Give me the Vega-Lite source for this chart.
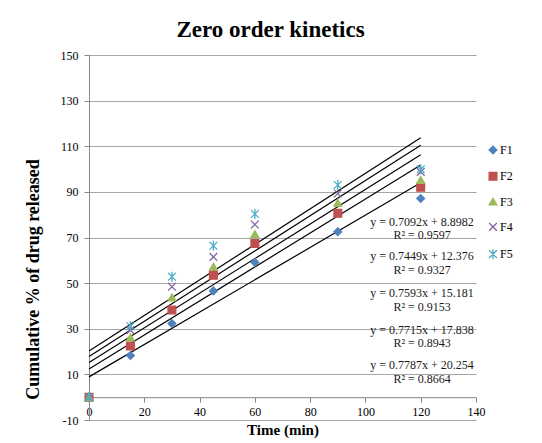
{
  "$schema": "https://vega.github.io/schema/vega-lite/v6.json",
  "autosize": {"type": "none"},
  "padding": {"left": 89, "top": 55, "right": 66, "bottom": 23},
  "width": 387,
  "height": 365,
  "background": "white",
  "config": {"font": "Liberation Serif", "view": {"stroke": null}},
  "title": {"text": "Zero order kinetics", "fontSize": 23, "fontWeight": "bold", "font": "Liberation Serif", "color": "black", "anchor": "middle", "dx": -12, "offset": 7},
  "datasets": {
    "obs": [
      {"s": "F1", "time": 0, "value": 0}, {"s": "F1", "time": 15, "value": 18.3}, {"s": "F1", "time": 30, "value": 32.3}, {"s": "F1", "time": 45, "value": 46.6}, {"s": "F1", "time": 60, "value": 59.1}, {"s": "F1", "time": 90, "value": 72.5}, {"s": "F1", "time": 120, "value": 87.1},
      {"s": "F2", "time": 0, "value": 0}, {"s": "F2", "time": 15, "value": 22.4}, {"s": "F2", "time": 30, "value": 38.2}, {"s": "F2", "time": 45, "value": 53.5}, {"s": "F2", "time": 60, "value": 67.4}, {"s": "F2", "time": 90, "value": 80.6}, {"s": "F2", "time": 120, "value": 92.0},
      {"s": "F3", "time": 0, "value": 0}, {"s": "F3", "time": 15, "value": 26.2}, {"s": "F3", "time": 30, "value": 43.7}, {"s": "F3", "time": 45, "value": 57.2}, {"s": "F3", "time": 60, "value": 71.5}, {"s": "F3", "time": 90, "value": 85.2}, {"s": "F3", "time": 120, "value": 95.2},
      {"s": "F4", "time": 0, "value": 0}, {"s": "F4", "time": 15, "value": 29.4}, {"s": "F4", "time": 30, "value": 48.4}, {"s": "F4", "time": 45, "value": 61.5}, {"s": "F4", "time": 60, "value": 75.7}, {"s": "F4", "time": 90, "value": 89.3}, {"s": "F4", "time": 120, "value": 98.8},
      {"s": "F5", "time": 0, "value": 0}, {"s": "F5", "time": 15, "value": 31.1}, {"s": "F5", "time": 30, "value": 52.8}, {"s": "F5", "time": 45, "value": 66.4}, {"s": "F5", "time": 60, "value": 80.3}, {"s": "F5", "time": 90, "value": 93.0}, {"s": "F5", "time": 120, "value": 99.9}
    ],
    "trend": [
      {"s": "F1", "time": 0, "value": 8.8982}, {"s": "F1", "time": 120, "value": 94.002},
      {"s": "F2", "time": 0, "value": 12.376}, {"s": "F2", "time": 120, "value": 101.764},
      {"s": "F3", "time": 0, "value": 15.181}, {"s": "F3", "time": 120, "value": 106.297},
      {"s": "F4", "time": 0, "value": 17.838}, {"s": "F4", "time": 120, "value": 110.418},
      {"s": "F5", "time": 0, "value": 20.254}, {"s": "F5", "time": 120, "value": 113.698}
    ],
    "eq": [
      {"label": "y = 0.7092x + 8.8982", "time": 120.5, "value": 76.8},
      {"label": "R² = 0.9597", "time": 120.5, "value": 71.0},
      {"label": "y = 0.7449x + 12.376", "time": 120.5, "value": 61.8},
      {"label": "R² = 0.9327", "time": 120.5, "value": 55.7},
      {"label": "y = 0.7593x + 15.181", "time": 120.5, "value": 45.6},
      {"label": "R² = 0.9153", "time": 120.5, "value": 39.5},
      {"label": "y = 0.7715x + 17.838", "time": 120.5, "value": 29.4},
      {"label": "R² = 0.8943", "time": 120.5, "value": 23.7},
      {"label": "y = 0.7787x + 20.254", "time": 120.5, "value": 14.0},
      {"label": "R² = 0.8664", "time": 120.5, "value": 7.9}
    ]
  },
  "layer": [
    {
      "data": {"name": "trend"},
      "mark": {"type": "line", "color": "black", "strokeWidth": 1.2},
      "encoding": {
        "x": {"field": "time", "type": "quantitative",
          "scale": {"domain": [0, 140], "nice": false, "zero": false},
          "axis": {"values": [0, 20, 40, 60, 80, 100, 120, 140], "title": "Time (min)", "offset": -22.8, "grid": false,
            "domainColor": "#868686", "tickColor": "#868686", "tickSize": 5,
            "labelFont": "Liberation Serif", "labelFontSize": 12, "labelColor": "black", "labelPadding": 4, "labelFlush": false,
            "labelExpr": "toString(datum.value)",
            "titleFont": "Liberation Serif", "titleFontSize": 15, "titleFontWeight": "bold", "titleColor": "black", "titlePadding": 5}},
        "y": {"field": "value", "type": "quantitative",
          "scale": {"domain": [-10, 150], "nice": false, "zero": false},
          "axis": {"values": [-10, 10, 30, 50, 70, 90, 110, 130, 150], "title": "Cumulative % of drug released",
            "grid": true, "gridColor": "#a6a6a6", "gridWidth": 1,
            "domainColor": "#868686", "tickColor": "#868686", "tickSize": 5,
            "labelFont": "Liberation Serif", "labelFontSize": 12, "labelColor": "black", "labelPadding": 6,
            "labelExpr": "toString(datum.value)",
            "titleFont": "Liberation Serif", "titleFontSize": 18, "titleFontWeight": "bold", "titleColor": "black",
            "titleX": -56, "titleY": 224, "titleAlign": "center", "titleBaseline": "middle", "titleAngle": 270}},
        "detail": {"field": "s", "type": "nominal"}
      }
    },
    {
      "data": {"name": "obs"},
      "mark": {"type": "point", "size": 60, "strokeWidth": 1.3, "opacity": 1},
      "encoding": {
        "x": {"field": "time", "type": "quantitative"},
        "y": {"field": "value", "type": "quantitative"},
        "fill": {"field": "s", "type": "nominal",
          "scale": {"domain": ["F1", "F2", "F3", "F4", "F5"], "range": ["#4F81BD", "#C0504D", "#9BBB59", "#8064A2", "#4BACC6"]},
          "legend": {"title": null, "orient": "none", "legendX": 398, "legendY": 89, "rowPadding": 12.3,
            "labelFont": "Liberation Serif", "labelFontSize": 12, "labelColor": "black", "labelOffset": 1, "symbolStrokeWidth": 1.3, "symbolSize": 60}},
        "stroke": {"field": "s", "type": "nominal",
          "scale": {"domain": ["F1", "F2", "F3", "F4", "F5"], "range": ["#4F81BD", "#C0504D", "#9BBB59", "#8064A2", "#4BACC6"]}},
        "shape": {"field": "s", "type": "nominal",
          "scale": {"domain": ["F1", "F2", "F3", "F4", "F5"], "range": ["diamond", "square", "triangle-up", "M-1,-1L1,1M-1,1L1,-1", "M-1,-1L1,1M-1,1L1,-1M0,-1.3L0,1.3"]}}
      }
    },
    {
      "data": {"name": "eq"},
      "mark": {"type": "text", "font": "Liberation Serif", "fontSize": 12, "color": "#1a1a1a", "align": "center", "baseline": "middle"},
      "encoding": {
        "x": {"field": "time", "type": "quantitative"},
        "y": {"field": "value", "type": "quantitative"},
        "text": {"field": "label", "type": "nominal"}
      }
    }
  ]
}
